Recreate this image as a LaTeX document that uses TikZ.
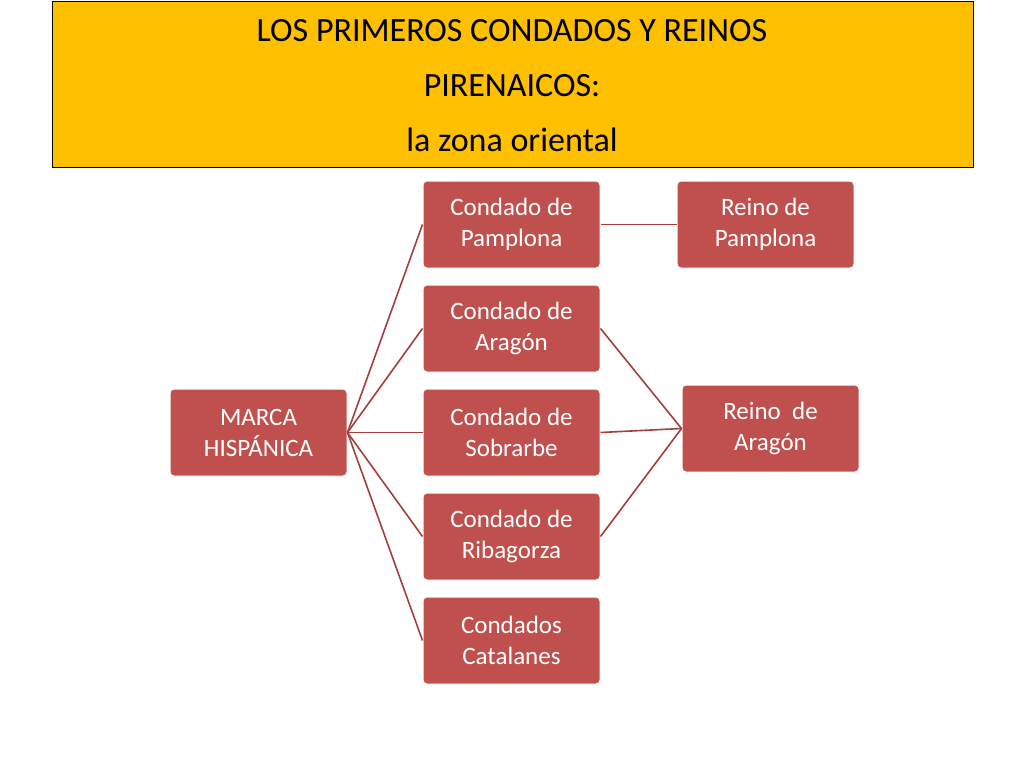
\documentclass[tikz,border=0pt]{standalone}
\usepackage{fontspec}
\setmainfont{Carlito}
\definecolor{boxred}{HTML}{C0504D}
\definecolor{linered}{HTML}{A33F3C}
\definecolor{titley}{HTML}{FFC000}
\begin{document}
\begin{tikzpicture}[x=1pt,y=-1pt,
  box/.style={fill=boxred,draw=white,line width=1pt,rounded corners=4pt,minimum width=177pt,minimum height=87pt,text=white,align=center,font=\fontsize{25}{31}\selectfont,inner sep=2pt},
  conn/.style={draw=linered,line width=1.6pt}]
\useasboundingbox (0,0) rectangle (1024,768);
\fill[white] (0,0) rectangle (1024,768);
\node[draw=black,fill=titley,line width=0.8pt,minimum width=921pt,minimum height=166pt,anchor=north west,inner sep=0pt] (title) at (52,1) {};
\node[align=center,font=\fontsize{34}{55}\selectfont] (tt) at (512,86) {LOS PRIMEROS CONDADOS Y REINOS\\PIRENAICOS:\\la zona oriental};
\node[box] (m) at (258.5,432.5) {MARCA\\HISPÁNICA};
\node[box] (c1) at (511.5,224.5) {Condado de\\Pamplona};
\node[box] (c2) at (511.5,328.5) {Condado de\\Aragón};
\node[box] (c3) at (511.5,432.5) {Condado de\\Sobrarbe};
\node[box] (c4) at (511.5,536.5) {Condado de\\Ribagorza};
\node[box] (c5) at (511.5,640.5) {Condados\\Catalanes};
\node[box] (rp) at (765.5,224.5) {Reino de\\Pamplona};
\node[box] (ra) at (770.5,428.5) {Reino~ de\\Aragón};
\foreach \c in {c1,c2,c3,c4,c5} \draw[conn] (m.east) -- (\c.west);
\draw[conn] (c1.east) -- (rp.west);
\foreach \c in {c2,c3,c4} \draw[conn] (\c.east) -- (ra.west);
\end{tikzpicture}
\end{document}
